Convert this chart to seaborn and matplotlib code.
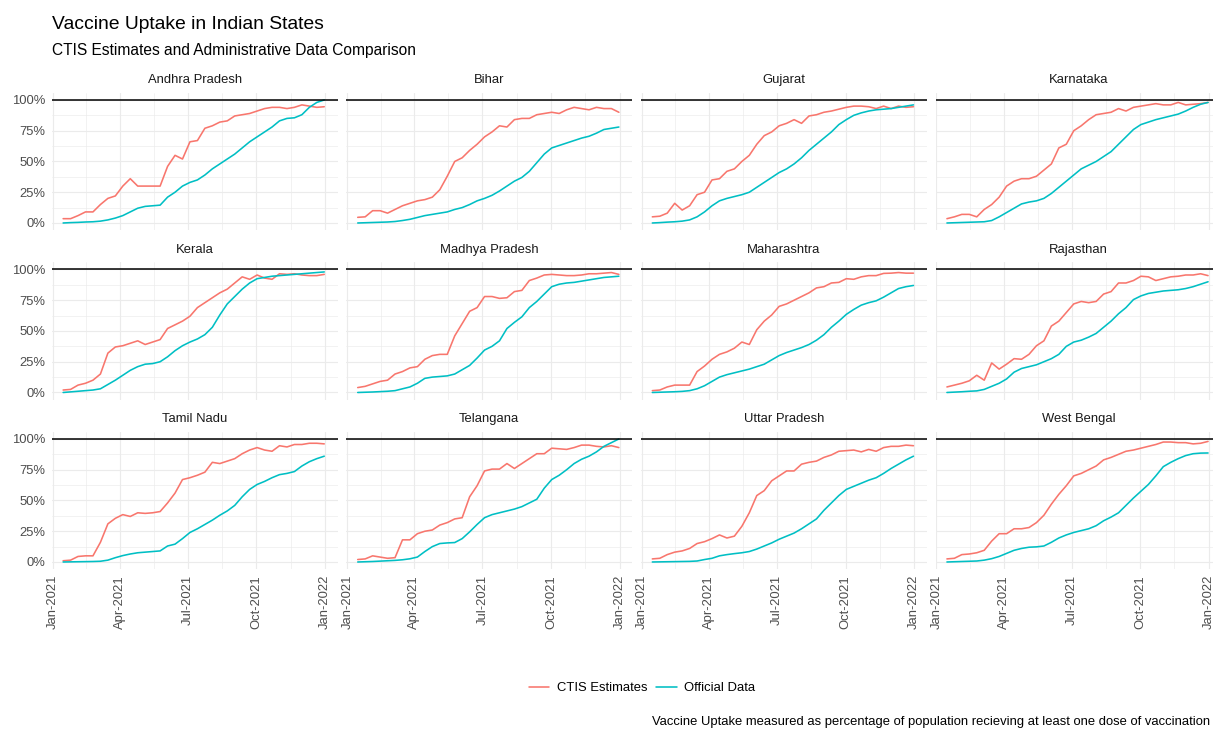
import pandas as pd
import matplotlib
matplotlib.use("Agg")
import matplotlib.pyplot as plt
import matplotlib.dates as mdates
from matplotlib.lines import Line2D
from matplotlib.ticker import FuncFormatter, FixedLocator
import seaborn as sns

# ---------------------------------------------------------------------------
# Data: share of population with at least one vaccine dose (%), sampled every
# 10 days from mid-January to the end of December 2021.
# ---------------------------------------------------------------------------
dates = pd.date_range("2021-01-15", "2021-12-31", freq="10D")

states = ["Andhra Pradesh", "Bihar", "Gujarat", "Karnataka",
          "Kerala", "Madhya Pradesh", "Maharashtra", "Rajasthan",
          "Tamil Nadu", "Telangana", "Uttar Pradesh", "West Bengal"]

andhra_ctis = [3.5, 3.5, 6, 9, 9, 15, 20, 22, 30, 36, 30, 30, 30, 30, 46, 55, 52, 66,
               67, 77, 79, 82, 83, 87, 88, 89, 91, 93, 94, 94, 93, 94, 96, 95, 94, 94.5]
andhra_official = [0, 0.3, 0.5, 0.8, 1, 1.5, 2.5, 4, 6, 9, 12, 13.5, 14, 14.5, 21, 25, 30, 33,
                   35, 39, 44, 48, 52, 56, 61, 66, 70, 74, 78, 83, 85, 85.5, 88, 94, 98, 100]

bihar_ctis = [4.6, 5, 10, 10, 8, 11, 14, 16, 18, 19, 21, 27, 38, 50, 53, 59, 64, 70,
              74, 79, 78, 84, 85, 85, 88, 89, 90, 89, 92, 94, 93, 92, 94, 93, 93, 90]
bihar_official = [0, 0.2, 0.4, 0.6, 0.8, 1.2, 2, 3, 4.5, 6, 7, 8, 9, 11, 12.5, 15, 18, 20,
                  22.5, 26, 30, 34, 37, 42, 49, 56, 61, 63, 65, 67, 69, 70.5, 73, 76, 77, 78]

gujarat_ctis = [5, 5.5, 8, 16, 10.5, 14, 23, 25, 35, 36, 42, 44, 50, 55, 64, 71, 74, 79,
                81, 84, 81, 87, 88, 90, 91, 92.5, 94, 95, 95, 94.5, 93, 95, 93, 95, 94, 94.5]
gujarat_official = [0, 0.3, 0.7, 1, 1.5, 2.5, 5, 9, 14, 18, 20, 21.5, 23, 25, 29, 33, 37, 41,
                    44, 48, 53, 59, 64, 69, 74, 80, 84, 87.5, 89.5, 91, 92, 92.5, 93, 94, 95, 96]

karnataka_ctis = [3.5, 5, 7, 7, 5, 11, 15, 21, 30, 34, 36, 36, 38, 43, 48, 61, 64, 75,
                  79, 84, 88, 89, 90, 93, 91, 94, 95, 96, 97, 96, 96, 98, 96, 96.5, 97, 98]
karnataka_official = [0, 0.2, 0.4, 0.6, 0.8, 1, 2, 5, 8.5, 12, 15.5, 17, 18, 20, 24, 29, 34, 39,
                      44, 47, 50, 54, 58, 64, 70, 76, 80, 82, 84, 85.5, 87, 88.5, 91, 94, 96.5, 98]

kerala_ctis = [2, 2.5, 6, 7.5, 10, 15, 32, 37, 38, 40, 42, 39, 41, 43, 52, 55, 58, 62,
               69, 73, 77, 81, 84, 89, 94, 92, 95.5, 93, 92, 96.5, 96, 96.5, 95.5, 95, 95, 96]
kerala_official = [0, 0.5, 1, 1.5, 2, 3, 6.5, 10, 14, 18, 21, 23, 23.5, 25, 29, 34, 38, 41,
                   43.5, 47, 53, 63, 72, 78, 84, 89, 92.5, 93.5, 94.5, 95, 95.5, 96, 96.5, 97, 97.5, 98]

madhya_ctis = [4, 5, 7, 9, 10, 15, 17, 20, 21, 27, 30, 31, 31, 46, 56, 66, 69, 78,
               78, 76.5, 77, 82, 83, 91, 93, 95.5, 96, 95.5, 95, 95, 95.5, 96.5, 96.5, 97, 97.5, 96]
madhya_official = [0, 0.2, 0.4, 0.7, 1, 1.5, 3, 4.5, 7.5, 11.5, 12.5, 13, 13.5, 15, 18.5, 22, 28, 34.5,
                   37.5, 42, 52, 57, 61.5, 69, 74, 80, 86, 88, 89, 89.5, 90.5, 91.5, 92.5, 93.5, 94, 94.5]

maharashtra_ctis = [1.5, 2, 4.5, 6, 6, 6, 17, 21.5, 27, 31, 33, 36, 41, 39, 51, 58, 63, 70,
                    72, 75, 78, 81, 85, 86, 89, 89.5, 92.5, 92, 94, 95, 95, 96.8, 97, 97.5, 97, 97]
maharashtra_official = [0, 0.2, 0.4, 0.6, 0.9, 1.5, 3, 5.5, 9, 12.5, 14.5, 16, 17.5, 19, 21, 23, 26.5, 30,
                        32.5, 34.5, 36.5, 39, 42.5, 47, 53, 58, 63.5, 67.5, 71, 73, 74.5, 77.5, 81, 84.5, 86, 87]

rajasthan_ctis = [4.5, 6, 7.5, 9.5, 14, 10, 24, 19, 23, 27.5, 27, 31, 38, 42, 54, 58, 65, 72,
                  74, 73, 74, 80, 82, 89, 89, 91, 94.5, 94, 91, 92.5, 94, 94.5, 95.5, 95.5, 96.5, 95]
rajasthan_official = [0, 0.3, 0.6, 1, 1.3, 2.5, 5, 7.5, 11, 16.5, 19.5, 21, 22.5, 25, 27.5, 31, 37.5, 41,
                      42.5, 45, 48, 53, 58, 64, 69, 75.5, 78.5, 80.5, 81.5, 82.5, 83, 83.5, 84.5, 86, 88, 90]

tamil_ctis = [1, 1.5, 4.5, 5, 5, 16, 31, 35.5, 38.5, 37, 40, 39.5, 40, 41, 48, 56, 67, 68.5,
              70.5, 73, 81, 80, 82, 84, 88, 91, 93, 91, 90, 94.5, 93.5, 95.5, 95.5, 96.5, 96.5, 96]
tamil_official = [0, 0.1, 0.2, 0.3, 0.4, 0.6, 1.5, 3.5, 5.2, 6.5, 7.5, 8, 8.5, 9, 13, 14.5, 19, 24,
                  27, 30.5, 34, 38, 41.5, 46, 53, 59, 63, 65.5, 68.5, 71, 72, 73.5, 78, 81.5, 84, 86]

telangana_ctis = [2, 2.5, 5, 4, 3, 3.5, 18, 18, 23, 25, 26, 30, 32, 35, 36, 53, 62, 74,
                  75.5, 75.5, 80, 76, 80, 84, 88, 88, 92.5, 92, 91.5, 93, 95, 95, 94, 93.5, 94.5, 93]
telangana_official = [0, 0.2, 0.4, 0.7, 1, 1.3, 1.8, 2.6, 4, 8.5, 12.5, 15, 15.5, 15.8, 19, 24.5, 30.5, 36,
                      38.5, 40, 41.5, 43, 45, 48, 51, 60, 67, 70.5, 75, 80, 83.5, 86, 89.5, 94, 97, 100]

uttar_ctis = [2.5, 3, 6, 8, 9, 11, 15, 16.5, 19, 22, 19.5, 21, 29, 40, 54, 58, 66, 70,
              74, 74, 79.5, 81, 82, 85, 87, 90, 90.5, 91, 89.5, 91.5, 90, 93, 94, 94, 95, 94.5]
uttar_official = [0, 0.1, 0.2, 0.3, 0.4, 0.5, 0.8, 2, 3, 5, 6, 6.8, 7.5, 8.5, 10.5, 13, 15.5, 18.5,
                  21, 23.5, 27, 31, 35, 42, 48, 54, 59, 61.5, 64, 66.5, 68.5, 72, 76, 79.5, 83, 86]

bengal_ctis = [2.5, 3, 6, 6.5, 7.5, 9.5, 17, 23, 23, 27, 27, 28, 32, 38, 47, 55, 62, 70,
               72, 75, 78, 83, 85, 87.5, 90, 91, 92.5, 94, 95.5, 97.5, 97.5, 97, 97, 96, 96.5, 98]
bengal_official = [0, 0.2, 0.4, 0.6, 0.8, 1.5, 2.7, 4.5, 7, 9.5, 11, 12, 12.3, 13, 16, 19.5, 22, 24,
                   25.5, 27, 29.5, 33.5, 36.5, 40, 46, 52, 57.5, 63, 70, 77.5, 81, 84, 86.5, 88, 88.5, 88.6]

ctis_series = [andhra_ctis, bihar_ctis, gujarat_ctis, karnataka_ctis,
               kerala_ctis, madhya_ctis, maharashtra_ctis, rajasthan_ctis,
               tamil_ctis, telangana_ctis, uttar_ctis, bengal_ctis]
official_series = [andhra_official, bihar_official, gujarat_official, karnataka_official,
                   kerala_official, madhya_official, maharashtra_official, rajasthan_official,
                   tamil_official, telangana_official, uttar_official, bengal_official]

sources = ["CTIS Estimates", "Official Data"]
palette = {"CTIS Estimates": "#F8766D", "Official Data": "#00BFC4"}

# Long table for seaborn
frames = []
for st, c, o in zip(states, ctis_series, official_series):
    frames.append(pd.DataFrame({"date": dates, "uptake": c, "source": sources[0], "state": st}))
    frames.append(pd.DataFrame({"date": dates, "uptake": o, "source": sources[1], "state": st}))
df = pd.concat(frames, ignore_index=True)

# ---------------------------------------------------------------------------
# Styling
# ---------------------------------------------------------------------------
sns.set_theme(style="white")
plt.rcParams["font.family"] = ["Liberation Sans", "DejaVu Sans"]

W, H = 1213, 729
fig = plt.figure(figsize=(W / 100, H / 100), dpi=100)

grid_col = "#EBEBEB"
tick_col = "#4D4D4D"
strip_col = "#1A1A1A"
fs_small = 9.4

# facet geometry in pixels (the last column runs past the right edge)
x0, col_step, panel_w = 51.7, 294.6, 286.0
y0, row_step, panel_h = 92.7, 169.5, 137.3

major_x = [pd.Timestamp(s) for s in ["2021-01-01", "2021-04-01", "2021-07-01",
                                     "2021-10-01", "2022-01-01"]]
major_xn = [mdates.date2num(d) for d in major_x]
minor_xn = [(a + b) / 2 for a, b in zip(major_xn[:-1], major_xn[1:])]
xlim = (mdates.date2num(pd.Timestamp("2021-01-01")) - 1.3,
        mdates.date2num(pd.Timestamp("2022-01-01")) + 17.0)

for i, st in enumerate(states):
    r, c = divmod(i, 4)
    left = x0 + c * col_step
    top = y0 + r * row_step
    ax = fig.add_axes([left / W, 1 - (top + panel_h) / H, panel_w / W, panel_h / H])

    ax.set_axisbelow(True)
    ax.xaxis.set_major_locator(FixedLocator(major_xn))
    ax.xaxis.set_minor_locator(FixedLocator(minor_xn))
    ax.yaxis.set_major_locator(FixedLocator([0, 25, 50, 75, 100]))
    ax.yaxis.set_minor_locator(FixedLocator([12.5, 37.5, 62.5, 87.5]))
    ax.grid(which="major", color=grid_col, lw=0.85)
    ax.grid(which="minor", color=grid_col, lw=0.45)

    sub = df[df["state"] == st]
    sns.lineplot(data=sub, x="date", y="uptake", hue="source", hue_order=sources,
                 palette=palette, estimator=None, legend=False, linewidth=1.15, ax=ax)
    ax.axhline(100, color="black", lw=1.1, zorder=3)

    ax.set_xlim(*xlim)
    ax.set_ylim(-5.7, 105.9)
    ax.set_xlabel("")
    ax.set_ylabel("")
    for sp in ax.spines.values():
        sp.set_visible(False)

    ax.xaxis.set_major_formatter(mdates.DateFormatter("%b-%Y"))
    ax.yaxis.set_major_formatter(FuncFormatter(lambda v, p: f"{v:.0f}%"))
    ax.tick_params(which="both", length=0)
    ax.tick_params(axis="x", labelsize=fs_small, labelcolor=tick_col, pad=4.3,
                   labelrotation=90, labelbottom=(r == 2))
    ax.tick_params(axis="y", labelsize=fs_small, labelcolor=tick_col, pad=4.5,
                   labelleft=(c == 0))

    fig.text((left + panel_w / 2) / W, 1 - (top - 12.5) / H, st, ha="center",
             va="center", fontsize=fs_small, color=strip_col)

# Titles
fig.text(52 / W, 1 - 29 / H, "Vaccine Uptake in Indian States", fontsize=13.9,
         color="black", ha="left", va="baseline")
fig.text(52 / W, 1 - 54.5 / H, "CTIS Estimates and Administrative Data Comparison",
         fontsize=11.2, color="black", ha="left", va="baseline")

# Legend
handles = [Line2D([0], [0], color=palette[s], lw=1.15) for s in sources]
fig.legend(handles, sources, loc="center", bbox_to_anchor=(642 / W, 1 - 688 / H),
           ncol=2, frameon=False, fontsize=fs_small, handlelength=1.6,
           handletextpad=0.55, columnspacing=0.7, labelcolor="black")

# Caption, right-aligned so it stays inside the canvas
fig.text(1210 / W, 1 - 724.5 / H,
         "Vaccine Uptake measured as percentage of population recieving at least one dose of vaccination",
         fontsize=fs_small, color="black", ha="right", va="baseline")

fig.savefig("out.png", dpi=100)
